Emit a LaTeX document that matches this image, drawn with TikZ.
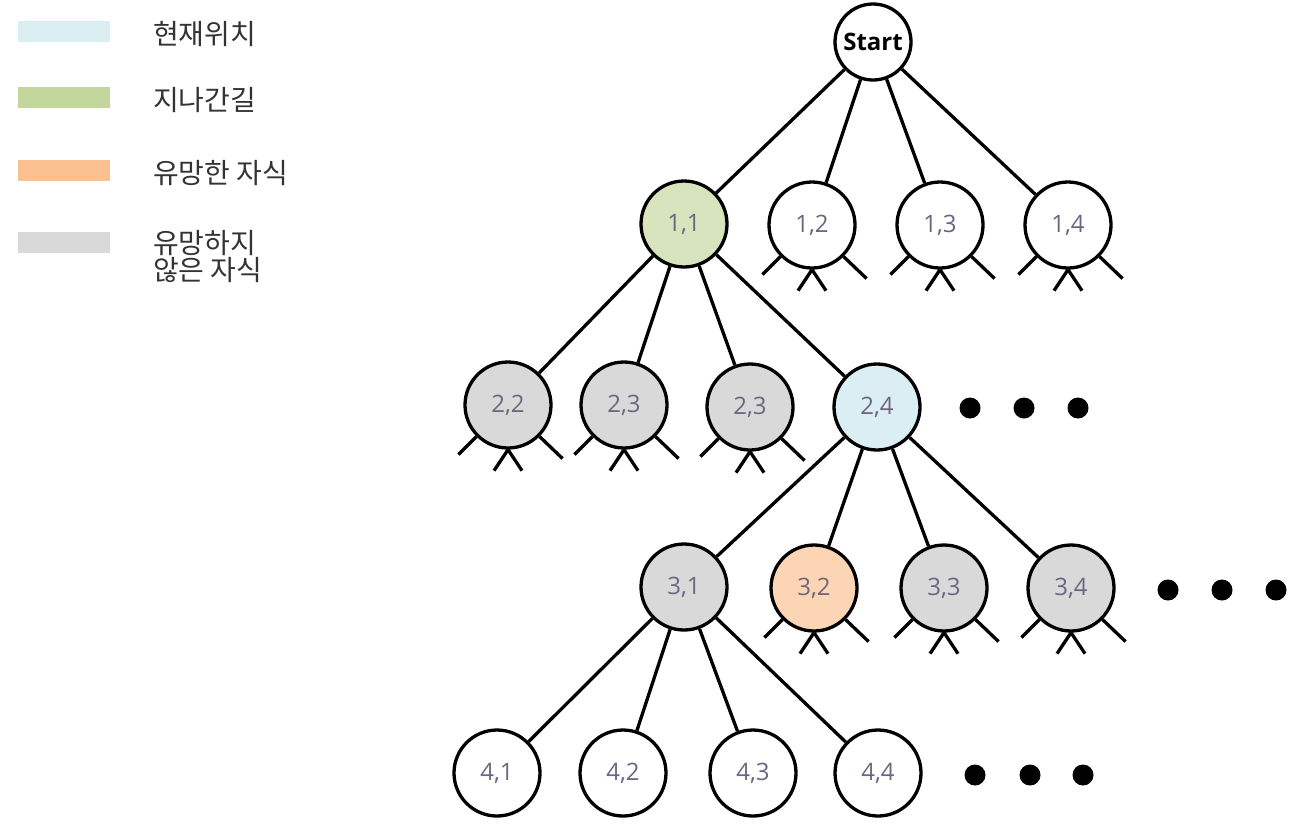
\documentclass[tikz,border=0pt]{standalone}
\usepackage{fontspec}
\setmainfont{Open Sans}
\newfontfamily\kr{Noto Sans CJK KR}
\definecolor{cur}{HTML}{DAEEF3}
\definecolor{past}{HTML}{C3D69B}
\definecolor{good}{HTML}{FAC090}
\definecolor{bad}{HTML}{D9D9D9}
\definecolor{curn}{HTML}{DBEEF4}
\definecolor{pastn}{HTML}{D7E4BD}
\definecolor{goodn}{HTML}{FCD5B5}
\definecolor{numtxt}{HTML}{6E6680}
\definecolor{legtxt}{HTML}{333333}
\tikzset{
  tnode/.style={circle,draw=black,line width=3.3pt,minimum size=86pt,inner sep=0pt,
    font=\fontsize{24}{26}\selectfont,text=numtxt},
  startnode/.style={circle,draw=black,line width=3.3pt,minimum size=76pt,inner sep=0pt,
    font=\fontsize{24}{26}\selectfont\bfseries,text=black},
  edge/.style={line width=3.3pt},
  legbox/.style={inner sep=0pt,minimum width=92pt,minimum height=21pt},
  legtext/.style={anchor=west,inner sep=0pt,text=legtxt,font=\kr\fontsize{28}{27}\selectfont,align=left},
  dot/.style={fill=black}
}
\newcommand{\stubs}[1]{%
  \draw[edge] (#1.225) -- ++(-18,18);
  \draw[edge] (#1.315) -- ++(23,22);
  \draw[edge] (#1.south) -- ++(-14,21);
  \draw[edge] (#1.south) -- ++(14,21);}
\begin{document}
\begin{tikzpicture}[x=1pt,y=-1pt]
\useasboundingbox (0,0) rectangle (1300,831);
% legend
\node[legbox,fill=cur] (l1) at (64,31) {};
\node[legbox,fill=past] (l2) at (64,97) {};
\node[legbox,fill=good] (l3) at (64,170) {};
\node[legbox,fill=bad] (l4) at (64,242) {};
\node[legtext] (t1) at (153,34) {현재위치};
\node[legtext] (t2) at (153,100) {지나간길};
\node[legtext] (t3) at (153,173) {유망한 자식};
\node[legtext] (t4) at (153,257) {유망하지\\않은 자식};
% tree
\node[startnode,fill=white] (s) at (873,42) {Start};
\node[tnode,fill=pastn] (n11) at (684,224) {1,1};
\node[tnode,fill=white] (n12) at (812,225) {1,2};
\node[tnode,fill=white] (n13) at (940,225) {1,3};
\node[tnode,fill=white] (n14) at (1068,225) {1,4};
\node[tnode,fill=bad] (n22) at (508,405) {2,2};
\node[tnode,fill=bad] (n23) at (624,405) {2,3};
\node[tnode,fill=bad] (n23b) at (750,407) {2,3};
\node[tnode,fill=curn] (n24) at (877,407) {2,4};
\node[tnode,fill=bad] (n31) at (684,587) {3,1};
\node[tnode,fill=goodn] (n32) at (814,588) {3,2};
\node[tnode,fill=bad] (n33) at (944,588) {3,3};
\node[tnode,fill=bad] (n34) at (1071,588) {3,4};
\node[tnode,fill=white] (n41) at (497,773) {4,1};
\node[tnode,fill=white] (n42) at (623,773) {4,2};
\node[tnode,fill=white] (n43) at (753,773) {4,3};
\node[tnode,fill=white] (n44) at (878,773) {4,4};
\foreach \t in {n11,n12,n13,n14} \draw[edge] (s) -- (\t);
\foreach \t in {n22,n23,n23b,n24} \draw[edge] (n11) -- (\t);
\foreach \t in {n31,n32,n33,n34} \draw[edge] (n24) -- (\t);
\foreach \t in {n41,n42,n43,n44} \draw[edge] (n31) -- (\t);
\foreach \t in {n12,n13,n14,n22,n23,n23b,n32,n33,n34} {\stubs{\t}}
% dots
\foreach \x in {970,1024,1078} \fill[dot] (\x,408) circle (10.5);
\foreach \x in {1168,1222,1276} \fill[dot] (\x,590) circle (10.5);
\foreach \x in {975,1030,1083} \fill[dot] (\x,775) circle (10.5);
\end{tikzpicture}
\end{document}
